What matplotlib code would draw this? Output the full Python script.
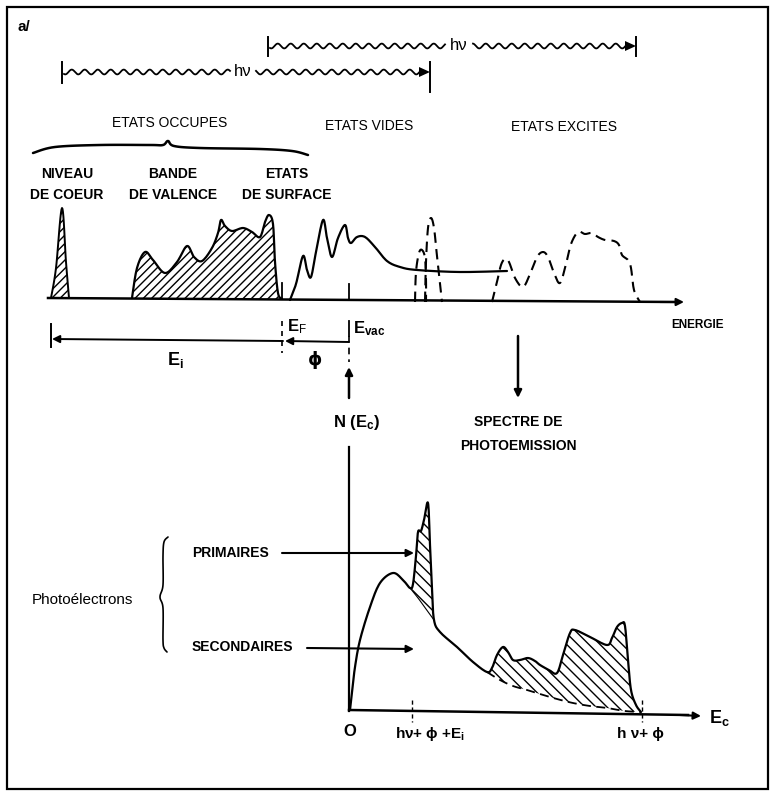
import numpy as np
import matplotlib.pyplot as plt

plt.rcParams['font.family'] = ['Liberation Sans', 'DejaVu Sans']
plt.rcParams['mathtext.fontset'] = 'custom'
plt.rcParams['mathtext.rm'] = 'Liberation Sans'
plt.rcParams['mathtext.it'] = 'Liberation Sans'
plt.rcParams['mathtext.bf'] = 'Liberation Sans:bold'
plt.rcParams['hatch.linewidth'] = 1.0

W, H = 771, 792

# ----------------------------
# Upper panel: density of states along the energy axis
# ----------------------------
core_level = [(51, 298), (56, 268), (62, 208), (66, 262), (69, 298)]
valence_band = [(132, 298), (137, 268), (145, 252), (153, 260), (165, 273), (177, 262),
                (187, 246), (194, 257), (202, 261), (212, 248), (218, 233), (221, 220),
                (225, 226), (232, 231), (243, 228), (252, 232), (260, 237), (265, 222),
                (269, 215), (273, 224), (275, 262), (278, 293), (282, 299)]
empty_states = [(290, 300), (296, 284), (303, 256), (307, 270), (311, 277), (316, 252),
                (323, 220), (327, 238), (332, 257), (338, 238), (345, 225), (348, 238),
                (351, 243), (357, 237), (365, 237), (375, 247), (387, 261), (400, 267),
                (417, 270), (460, 272), (507, 271)]
surface_peak_a = [(415, 302), (416, 272), (419, 253), (422, 250), (425, 258), (426, 280), (426, 302)]
surface_peak_b = [(425, 302), (426, 262), (428, 228), (431, 218), (434, 228), (437, 256), (442, 302)]
excited_states = [(492, 302), (497, 282), (501, 265), (505, 259), (509, 262), (515, 278),
                  (523, 287), (530, 274), (537, 257), (543, 252), (548, 257), (554, 273),
                  (560, 283), (566, 264), (571, 244), (578, 232), (585, 234), (592, 233),
                  (598, 237), (605, 240), (614, 241), (619, 245), (622, 255), (628, 260),
                  (631, 268), (634, 290), (640, 302)]

# ----------------------------
# Lower panel: photoemission spectrum N(Ec)
# ----------------------------
spectrum_rise = [(350, 710), (352, 692), (355, 667), (360, 640), (370, 607), (380, 583),
                 (393, 573), (403, 580), (410, 588)]
primary_peak = [(410, 588), (413, 584), (416, 556), (418, 532), (421, 531), (424, 520),
                (428, 503), (430, 545), (432, 590), (434, 620)]
primary_base = [(410, 588), (418, 598), (426, 609), (434, 620)]
secondary_tail = [(434, 620), (440, 632), (457, 647), (473, 662), (487, 672)]
excited_peaks = [(487, 672), (492, 668), (497, 655), (503, 647), (508, 652), (513, 660),
                 (520, 660), (528, 658), (535, 661), (540, 665), (549, 670), (557, 673),
                 (563, 655), (570, 633), (575, 630), (590, 637), (607, 645), (612, 638),
                 (617, 627), (622, 623), (625, 626), (628, 660), (631, 690), (636, 705),
                 (641, 712)]
excited_base = [(487, 672), (500, 680), (513, 686), (527, 690), (540, 694), (557, 699),
                (573, 703), (590, 706), (607, 708), (625, 711), (641, 712)]


def smooth(pts, n=10):
    # Catmull-Rom through the nodes so the hand-drawn curves stay round
    p = np.asarray(pts, dtype=float)
    p = np.vstack([p[0], p, p[-1]])
    out = []
    for i in range(1, len(p) - 2):
        p0, p1, p2, p3 = p[i - 1], p[i], p[i + 1], p[i + 2]
        t = np.linspace(0, 1, n, endpoint=False)[:, None]
        seg = 0.5 * ((2 * p1) + (-p0 + p2) * t + (2 * p0 - 5 * p1 + 4 * p2 - p3) * t ** 2
                     + (-p0 + 3 * p1 - 3 * p2 + p3) * t ** 3)
        out.append(seg)
    out.append(p[-2][None, :])
    s = np.vstack(out)
    return s[:, 0], s[:, 1]


def curve(ax, pts, **kw):
    x, y = smooth(pts)
    ax.plot(x, y, color='black', solid_capstyle='round', **kw)


def hatched(ax, upper, lower, hatch):
    xu, yu = smooth(upper)
    xl, yl = smooth(lower)
    xs = np.concatenate([xu, xl[::-1]])
    ys = np.concatenate([yu, yl[::-1]])
    ax.fill(xs, ys, facecolor='none', edgecolor='black', hatch=hatch, linewidth=0)


def arrow(ax, start, end, lw=1.5, scale=12):
    ax.annotate('', xy=end, xytext=start,
                arrowprops=dict(arrowstyle='-|>', color='black', lw=lw,
                                mutation_scale=scale, shrinkA=0, shrinkB=0))


def photon(ax, x0, x1, y, gap, tick_lo, tick_hi, right_hi):
    # wavy h-nu arrow with end bars and a gap for its label
    head = 10
    for a, b in [(x0 + 2, gap[0]), (gap[1], x1 - head)]:
        xs = np.linspace(a, b, 240)
        ax.plot(xs, y + 2.4 * np.sin(2 * np.pi * (xs - x0) / 13.0), color='black', lw=1.3)
    ax.fill([x1 - head - 1, x1, x1 - head - 1], [y - 5, y, y + 5], color='black', lw=0)
    ax.plot([x0, x0], [tick_lo, tick_hi], color='black', lw=1.4)
    ax.plot([x1, x1], [tick_lo, right_hi], color='black', lw=1.4)
    ax.text((gap[0] + gap[1]) / 2, y - 1, 'hν', ha='center', va='center', fontsize=12)


fig = plt.figure(figsize=(W / 100, H / 100), dpi=100)
ax = fig.add_axes([0, 0, 1, 1])
ax.set_xlim(0, W)
ax.set_ylim(H, 0)
ax.axis('off')

# frame
ax.add_patch(plt.Rectangle((7, 7), 761, 782, fill=False, lw=1.6, edgecolor='black'))
ax.text(18, 27, 'a/', fontsize=11, fontweight='bold', ha='left', va='center')

# photon energies
photon(ax, 268, 636, 46, (445, 473), 37, 56, 56)
photon(ax, 62, 430, 72, (230, 256), 62, 83, 92)

# state labels
ax.text(170, 123, 'ETATS OCCUPES', fontsize=10, ha='center', va='center')
ax.text(369, 126, 'ETATS VIDES', fontsize=10, ha='center', va='center')
ax.text(564, 127, 'ETATS EXCITES', fontsize=10, ha='center', va='center')
brace = [(33, 153), (55, 147), (100, 145), (150, 145), (163, 145), (168, 141),
         (174, 146), (200, 148), (260, 149), (292, 151), (308, 155)]
curve(ax, brace, lw=1.8)
for xc, top, bottom in [(67, 'NIVEAU', 'DE COEUR'), (173, 'BANDE', 'DE VALENCE'),
                        (287, 'ETATS', 'DE SURFACE')]:
    ax.text(xc, 174, top, fontsize=10, fontweight='bold', ha='center', va='center')
    ax.text(xc, 195, bottom, fontsize=10, fontweight='bold', ha='center', va='center')

# energy axis of the upper panel
ax.plot([48, 676], [298, 302], color='black', lw=1.8)
arrow(ax, (660, 302), (684, 302), lw=1.5, scale=11)
ax.text(697, 325, 'ENERGIE', fontsize=8.5, fontweight='bold', ha='center', va='center')

hatched(ax, core_level, [(51, 298), (69, 298)], '////')
curve(ax, core_level, lw=1.4)
hatched(ax, valence_band, [(132, 298), (282, 299)], '////')
curve(ax, valence_band, lw=1.6)
curve(ax, empty_states, lw=1.6)
for pk in (surface_peak_a, surface_peak_b, excited_states):
    curve(ax, pk, lw=1.5, linestyle=(0, (5, 3)))

# Fermi and vacuum level marks
ax.plot([282, 282], [283, 299], color='black', lw=1.3)
ax.plot([349, 349], [284, 300], color='black', lw=1.3)
ax.plot([282, 282], [321, 353], color='black', lw=1.2, linestyle=(0, (3, 3)))
ax.plot([349, 349], [321, 336], color='black', lw=1.3)
ax.plot([349, 349], [336, 362], color='black', lw=1.2, linestyle=(0, (4, 3)))
ax.text(287, 327, 'E$_\\mathrm{F}$', fontsize=12, fontweight='bold', ha='left', va='center')
ax.text(353, 329, 'E$_\\mathbf{vac}$', fontsize=12, fontweight='bold', ha='left', va='center')

# binding energy and work function
arrow(ax, (349, 342), (285, 341), lw=1.4, scale=11)
arrow(ax, (283, 341), (52, 339), lw=1.4, scale=11)
ax.plot([51, 51], [324, 347], color='black', lw=1.4)
ax.text(175, 360, 'E$_\\mathbf{i}$', fontsize=13, fontweight='bold', ha='center', va='center')
ax.text(315, 360, 'ϕ', fontsize=13, fontweight='bold', ha='center', va='center',
        family=['DejaVu Sans'])

arrow(ax, (349, 398), (349, 367), lw=1.8, scale=11)
arrow(ax, (518, 336), (518, 398), lw=1.8, scale=11)
ax.text(357, 423, 'N (E$_\\mathbf{c}$)', fontsize=12, fontweight='bold', ha='center', va='center')
ax.text(518, 422, 'SPECTRE DE', fontsize=10, fontweight='bold', ha='center', va='center')
ax.text(518, 446, 'PHOTOEMISSION', fontsize=10, fontweight='bold', ha='center', va='center')

# lower panel axes
ax.plot([349, 349], [447, 711], color='black', lw=1.6)
ax.plot([349, 688], [710, 715], color='black', lw=1.8)
arrow(ax, (680, 715), (701, 716), lw=1.5, scale=11)
ax.text(709, 718, 'E$_\\mathbf{c}$', fontsize=13, fontweight='bold', ha='left', va='center')
ax.text(350, 731, 'O', fontsize=12, fontweight='bold', ha='center', va='center')
for xt in (412, 642):
    ax.plot([xt, xt], [700, 722], color='black', lw=1.0, linestyle=(0, (3, 2)))
ax.text(430, 734, 'hν+ ϕ +E$_\\mathbf{i}$', fontsize=11, fontweight='bold', ha='center', va='center',
        family=['Liberation Sans', 'DejaVu Sans'])
ax.text(640, 734, 'h ν+ ϕ', fontsize=11, fontweight='bold', ha='center', va='center',
        family=['Liberation Sans', 'DejaVu Sans'])

# spectrum: secondary background with primary peaks hatched
hatched(ax, primary_peak, primary_base, '\\\\\\')
hatched(ax, excited_peaks, excited_base, '\\\\\\')
outline = spectrum_rise + primary_peak[1:] + secondary_tail[1:] + excited_peaks[1:]
curve(ax, outline, lw=1.6)
curve(ax, primary_base, lw=0.8)
curve(ax, excited_base, lw=1.3, linestyle=(0, (5, 3)))

# photoelectron labels
ax.text(82, 600, 'Photoélectrons', fontsize=11, ha='center', va='center')
lbrace = [(168, 537), (164, 542), (163, 556), (163, 585), (160, 597), (163, 608),
          (163, 640), (164, 648), (167, 652)]
curve(ax, lbrace, lw=1.2)
ax.text(192, 553, 'PRIMAIRES', fontsize=10, fontweight='bold', ha='left', va='center')
ax.text(192, 647, 'SECONDAIRES', fontsize=10, fontweight='bold', ha='left', va='center')
arrow(ax, (282, 553), (414, 553), lw=1.5, scale=11)
arrow(ax, (307, 648), (414, 649), lw=1.5, scale=11)

fig.savefig('out.png', dpi=100)
